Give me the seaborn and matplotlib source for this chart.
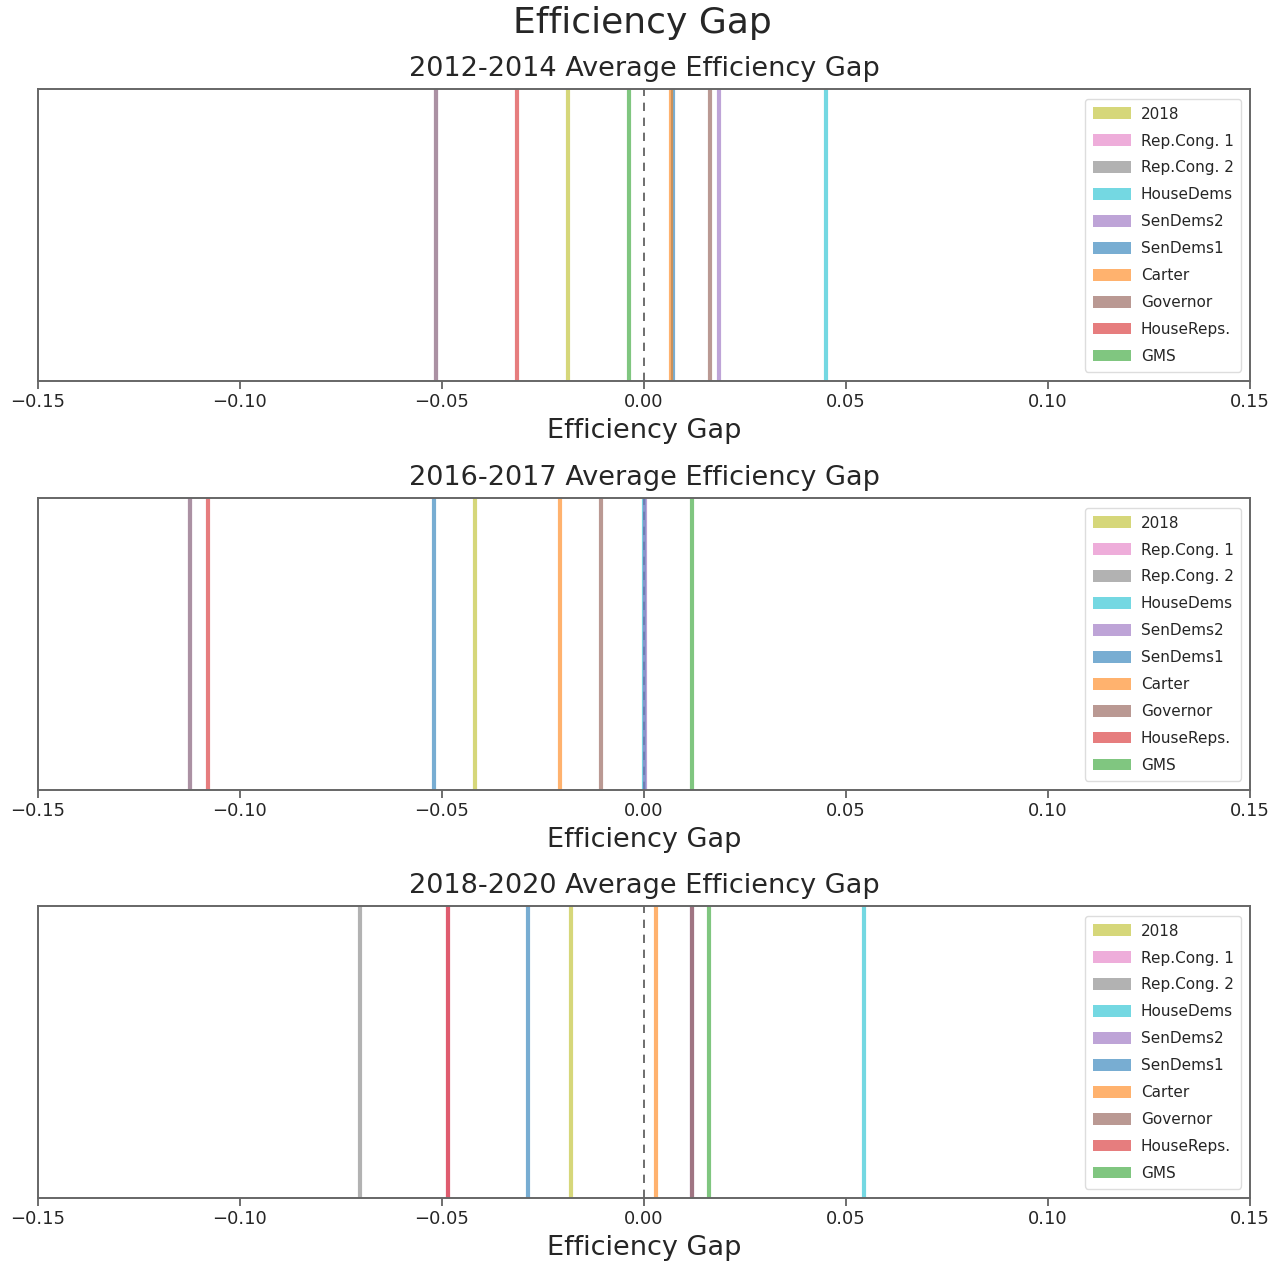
import matplotlib
matplotlib.use("Agg")
import matplotlib.pyplot as plt
import seaborn as sns
import pandas as pd
from matplotlib.patches import Patch

series = ["2018", "Rep.Cong. 1", "Rep.Cong. 2", "HouseDems", "SenDems2",
          "SenDems1", "Carter", "Governor", "HouseReps.", "GMS"]
colors = ["tab:olive", "tab:pink", "tab:gray", "tab:cyan", "tab:purple",
          "tab:blue", "tab:orange", "tab:brown", "tab:red", "tab:green"]

gap_2012_2014 = [-0.0189, -0.0515, -0.0515, 0.0450, 0.0186, 0.0071, 0.0066, 0.0163, -0.0314, -0.0038]
gap_2016_2017 = [-0.0418, -0.1123, -0.1123, 0.0000, 0.0003, -0.0520, -0.0207, -0.0107, -0.1079, 0.0119]
gap_2018_2020 = [-0.0180, -0.0484, -0.0704, 0.0545, 0.0120, -0.0287, 0.0029, 0.0120, -0.0484, 0.0160]

panel_titles = ["2012-2014 Average Efficiency Gap",
                "2016-2017 Average Efficiency Gap",
                "2018-2020 Average Efficiency Gap"]
panel_values = [gap_2012_2014, gap_2016_2017, gap_2018_2020]
xticks = [-0.15, -0.10, -0.05, 0.00, 0.05, 0.10, 0.15]

sns.set_style("white")
plt.rcParams['font.family'] = ['DejaVu Sans']

fig = plt.figure(figsize=(12.84, 12.66), dpi=100)
fig.suptitle("Efficiency Gap", fontsize=26, y=0.995, va="top")

W, H = 1284.0, 1266.0
tops = [89, 498, 906]
ax_h = 292
left, right = 38, 1250
palette = dict(zip(series, colors))

for top, title, vals in zip(tops, panel_titles, panel_values):
    ax = fig.add_axes([left / W, 1 - (top + ax_h) / H, (right - left) / W, ax_h / H])
    df = pd.DataFrame({"Efficiency Gap": vals, "Plan": series})
    sns.rugplot(data=df, x="Efficiency Gap", hue="Plan", palette=palette,
                height=1.0, linewidth=3.0, alpha=0.6, expand_margins=False,
                legend=False, ax=ax)
    ax.axvline(0, color="#555555", linestyle=(0, (5, 4)), linewidth=1.2, zorder=0)
    ax.set_xlim(-0.15, 0.15)
    ax.set_ylim(0, 1)
    ax.set_yticks([])
    ax.set_xticks(xticks)
    ax.set_xticklabels([f"{t:.2f}".replace("-", "\u2212") for t in xticks], fontsize=13)
    ax.tick_params(axis="x", bottom=True, length=6, width=1.2, color="#555555", pad=3)
    ax.set_xlabel("Efficiency Gap", fontsize=19.5, labelpad=5)
    ax.set_ylabel("")
    ax.set_title(title, fontsize=19.5, pad=9.5)
    for sp in ax.spines.values():
        sp.set_color("#666666")
        sp.set_linewidth(1.4)
    handles = [Patch(facecolor=c, alpha=0.6, edgecolor="none") for c in colors]
    ax.legend(handles, series, loc="upper right", fontsize=11, frameon=True,
              handlelength=2.5, handleheight=0.8, labelspacing=0.78,
              handletextpad=0.65, borderpad=0.5, framealpha=1.0,
              edgecolor="#dddddd", bbox_to_anchor=(0.999, 0.992))

fig.savefig("out.png", dpi=100)
